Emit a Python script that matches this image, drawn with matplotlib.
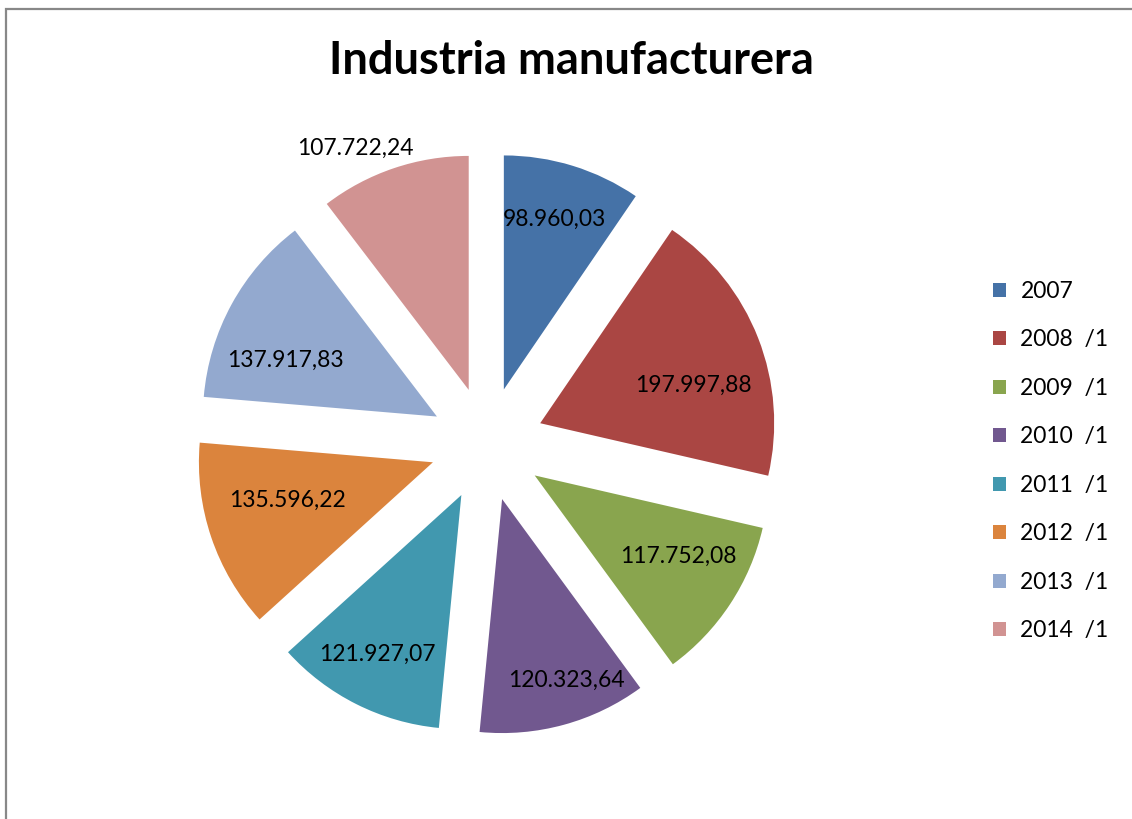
import numpy as np
import matplotlib
matplotlib.use("Agg")
import matplotlib.pyplot as plt
from matplotlib.patches import Patch, Rectangle

plt.rcParams["font.family"] = ["Lato", "DejaVu Sans"]

# data
years = ["2007", "2008  /1", "2009  /1", "2010  /1", "2011  /1", "2012  /1", "2013  /1", "2014  /1"]
values = [98960.03, 197997.88, 117752.08, 120323.64, 121927.07, 135596.22, 137917.83, 107722.24]
colors = ["#4572A7", "#AA4643", "#89A54E", "#71588F", "#4198AF", "#DB843D", "#93A9CF", "#D19392"]

# label placement (fraction of radius, angle nudge in degrees)
label_dist = [0.76, 0.674, 0.703, 0.821, 0.769, 0.644, 0.692, 1.141]
label_dang = [0.5, -7.4, 4.1, 4.1, -1.2, -4.2, 8.3, 6.5]


def fmt(v):
    s = f"{v:,.2f}"
    return s.replace(",", "X").replace(".", ",").replace("X", ".")


W, H = 1132, 819
fig = plt.figure(figsize=(W / 100, H / 100), dpi=100)
ax = fig.add_axes([0, 0, 1, 1])

cx, cy, rpx = 487, 444, 234
wedges, _ = ax.pie(values, colors=colors, startangle=90, counterclock=False,
                   explode=[0.244] * len(values), wedgeprops=dict(linewidth=0))
ax.set_aspect("auto")
ax.set_xlim(-cx / rpx, (W - cx) / rpx)
ax.set_ylim(-(H - cy) / rpx, cy / rpx)
ax.axis("off")

for i, w in enumerate(wedges):
    th = np.radians((w.theta1 + w.theta2) / 2 + label_dang[i])
    x = w.center[0] + label_dist[i] * w.r * np.cos(th)
    y = w.center[1] + label_dist[i] * w.r * np.sin(th)
    ax.text(x, y, fmt(values[i]), ha="center", va="center", fontsize=16.5, color="black")

fig.text(571 / W, 1 - 61 / H, "Industria manufacturera", ha="center", va="center",
         fontsize=32.5, fontweight="bold")

handles = [Patch(facecolor=c, edgecolor="none") for c in colors]
fig.legend(handles, years, loc="center left", bbox_to_anchor=(993 / W, 1 - 461 / H),
           frameon=False, fontsize=16.5, borderpad=0, borderaxespad=0,
           handlelength=0.58, handleheight=0.58, handletextpad=0.62, labelspacing=1.2)

fig.patches.append(Rectangle((6 / W, -0.1), 1.2, 1 - 9 / H + 0.1, transform=fig.transFigure,
                             fill=False, edgecolor="#888888", linewidth=1.6))

fig.savefig("out.png", dpi=100)
